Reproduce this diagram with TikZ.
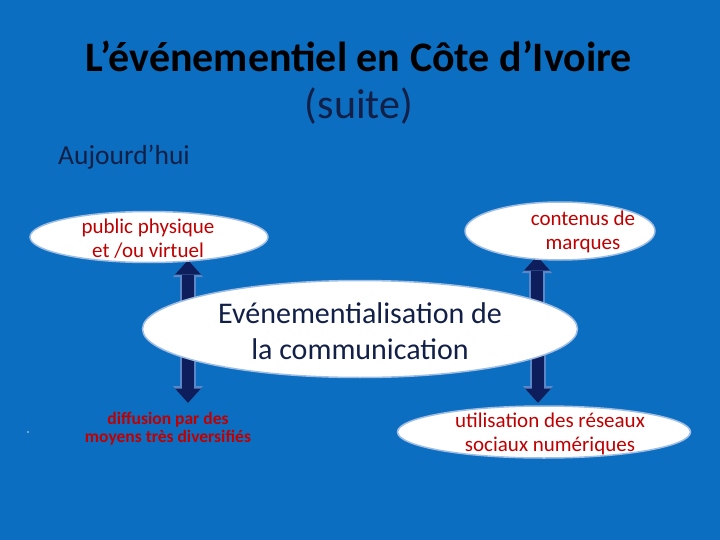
\documentclass[tikz,border=0pt]{standalone}
\usepackage{fontspec}
\setmainfont{Carlito}
\usetikzlibrary{shapes.geometric,arrows.meta}
\definecolor{bgblue}{RGB}{12,110,192}
\definecolor{arrnavy}{RGB}{14,30,92}
\definecolor{arrline}{RGB}{90,135,200}
\definecolor{ovline}{RGB}{160,190,228}
\definecolor{txtred}{RGB}{192,0,0}
\definecolor{txtnavy}{RGB}{18,32,72}
\tikzset{
  oval/.style={ellipse, draw=ovline, line width=1.5pt, fill=white, inner sep=0pt},
  redtxt/.style={text=txtred, align=center, font=\fontsize{21}{24}\selectfont, inner sep=0pt},
  blockout/.style={draw=arrline, line width=16pt, -{Triangle[width=30pt,length=17pt,line width=0pt]}},
  blockin/.style={draw=arrnavy, line width=12.5pt, -{Triangle[width=26pt,length=14.5pt,line width=0pt]}},
}
\begin{document}
\begin{tikzpicture}[x=1pt,y=-1pt]
\fill[bgblue] (0,0) rectangle (720,540);
\useasboundingbox (0,0) rectangle (720,540);

% title
\node[anchor=base, inner sep=0pt, font=\bfseries\fontsize{42}{46}\selectfont] (title) at (359,72) {L’événementiel en Côte d’Ivoire};
\node[anchor=base, inner sep=0pt, text=txtnavy, font=\fontsize{42}{46}\selectfont] (suite) at (359,119) {(suite)};
\node[anchor=base west, inner sep=0pt, text=txtnavy, font=\fontsize{27.5}{30}\selectfont] (auj) at (58,165) {Aujourd’hui};

% arrow end points
\coordinate (a1s) at (188,315);
\coordinate (a1e) at (188,260);
\coordinate (a2s) at (537,315);
\coordinate (a2e) at (537,256);
\coordinate (a3s) at (188,345);
\coordinate (a3e) at (188,403);
\coordinate (a4s) at (538,345);
\coordinate (a4e) at (538,403);

\foreach \s/\e in {a1s/a1e,a2s/a2e,a3s/a3e,a4s/a4e}{
  \draw[blockout] (\s) -- (\e);
  \draw[blockin] (\s) -- (\e);
}

% ellipses
\node[oval, minimum width=238pt, minimum height=51pt] (pub) at (149,237) {};
\node[redtxt] (pubtxt) at (148,239) {public physique\\et /ou virtuel};
\node[oval, minimum width=190pt, minimum height=58pt] (mar) at (560,231) {};
\node[redtxt] (martxt) at (583,232) {contenus de\\marques};
\node[oval, minimum width=435pt, minimum height=97pt] (mid) at (360,329) {};
\node[text=txtnavy, align=center, inner sep=0pt, font=\fontsize{30}{36}\selectfont] (midtxt) at (360,331)
  {Evénementialisation de\\la communication};
\node[oval, minimum width=293pt, minimum height=52pt] (soc) at (544,432) {};
\node[redtxt] (soctxt) at (550,434) {utilisation des réseaux\\sociaux numériques};

\node[text=txtred, align=center, inner sep=0pt, font=\bfseries\fontsize{17.5}{18}\selectfont] (dif) at (168,429)
  {diffusion par des\\moyens très diversifiés};
\fill[white!80!bgblue] (28,432) circle (0.9pt);
\end{tikzpicture}
\end{document}
